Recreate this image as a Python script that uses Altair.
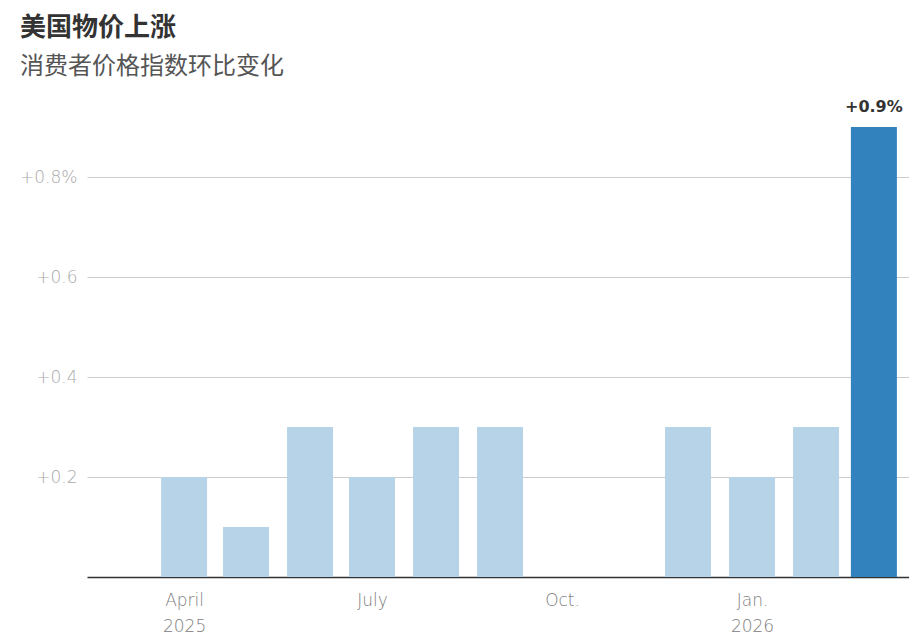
import altair as alt
import pandas as pd

# Monthly CPI change (%), bar placed at mid-month; Oct/Nov 2025 missing
months = ["2025-04-15", "2025-05-15", "2025-06-15", "2025-07-15", "2025-08-15",
          "2025-09-15", "2025-10-15", "2025-11-15", "2025-12-15", "2026-01-15",
          "2026-02-15", "2026-03-15"]
values = [0.2, 0.1, 0.3, 0.2, 0.3, 0.3, None, None, 0.3, 0.2, 0.3, 0.9]
latest = [False] * 11 + [True]

y_ticks = [0.2, 0.4, 0.6, 0.8]

df = pd.DataFrame({"date": months, "value": values, "latest": latest})

LATIN = "DejaVu Sans"
CJK = "Noto Sans CJK SC"

x_enc = alt.X(
    "date:T",
    scale=alt.Scale(
        type="utc",
        padding=0,
        domain=[alt.DateTime(year=2025, month=2, date=27, utc=True),
                alt.DateTime(year=2026, month=4, date=1, utc=True)],
    ),
    axis=alt.Axis(
        title=None,
        values=[alt.DateTime(year=2025, month=4, date=15, utc=True),
                alt.DateTime(year=2025, month=7, date=15, utc=True),
                alt.DateTime(year=2025, month=10, date=15, utc=True),
                alt.DateTime(year=2026, month=1, date=15, utc=True)],
        labelExpr=("utcmonth(datum.value) == 3 ? ['April', utcFormat(datum.value, '%Y')] : "
                   "utcmonth(datum.value) == 6 ? 'July' : "
                   "utcmonth(datum.value) == 9 ? 'Oct.' : ['Jan.', utcFormat(datum.value, '%Y')]"),
        labelFont=LATIN,
        labelFontSize=17,
        labelFontWeight=300,
        labelColor="#808080",
        labelLineHeight=26,
        labelPadding=15,
        labelBaseline="top",
        ticks=False,
        grid=False,
        domain=True,
        domainColor="#333333",
        domainWidth=1.5,
    ),
)

y_enc = alt.Y(
    "value:Q",
    scale=alt.Scale(domain=[0, 0.9], nice=False, zero=True),
    axis=alt.Axis(
        title=None,
        values=y_ticks,
        labelExpr="format(datum.value, '.1f') == '0.8' ? '+0.8%' : '+' + format(datum.value, '.1f')",
        labelFont=LATIN,
        labelFontSize=17,
        labelFontWeight=300,
        labelColor="#aaaaaa",
        labelPadding=10,
        ticks=False,
        domain=False,
        grid=True,
        gridColor="#cccccc",
        gridWidth=1,
    ),
)

bars = alt.Chart(df).mark_bar(size=46).encode(
    x=x_enc,
    y=y_enc,
    color=alt.condition(alt.datum.latest, alt.value("#3182bd"), alt.value("#b7d3e7")),
)

label = alt.Chart(df).transform_filter(alt.datum.latest).transform_calculate(
    txt="'+' + format(datum.value, '.1f') + '%'"
).mark_text(
    baseline="bottom", dy=-12, font=LATIN, fontSize=16, fontWeight="bold", color="#333333"
).encode(
    x=x_enc,
    y=y_enc,
    text="txt:N",
)

chart = (bars + label).properties(
    width=822,
    height=450,
    background="white",
    autosize=alt.AutoSizeParams(type="none"),
    padding={"left": 79, "top": 119, "right": 0, "bottom": 57},
    title=alt.TitleParams(
        text="美国物价上涨",
        subtitle="消费者价格指数环比变化",
        anchor="start",
        frame="group",
        dx=-67,
        offset=20,
        font=CJK,
        fontSize=26,
        fontWeight="bold",
        color="#333333",
        subtitleFont=CJK,
        subtitleFontSize=24,
        subtitleFontWeight="normal",
        subtitleColor="#555555",
        subtitlePadding=14,
    ),
).configure_view(stroke="transparent", strokeWidth=0)

chart.save("out.html", embed_options={"renderer": "svg", "actions": False})
